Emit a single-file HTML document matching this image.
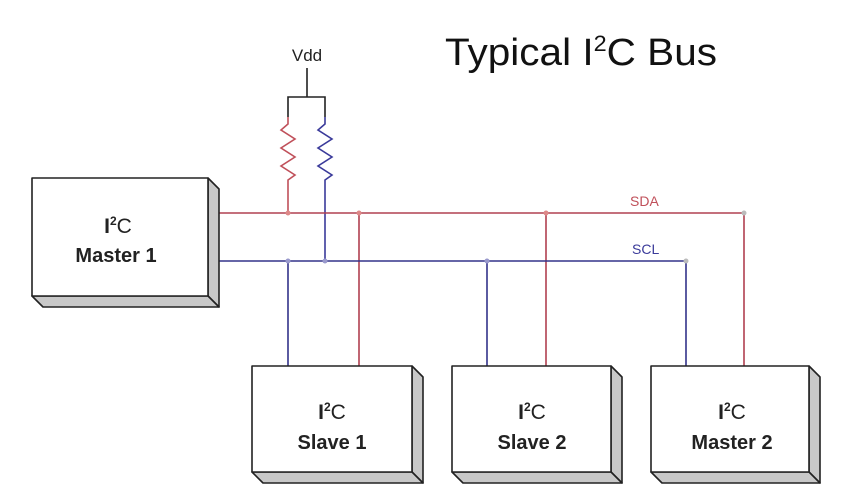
<!DOCTYPE html>
<html><head><meta charset="utf-8"><style>
html,body{margin:0;padding:0;background:#fff;}
svg{display:block;font-family:"Liberation Sans",Arial,sans-serif;}
</style></head><body>
<svg width="841" height="496" viewBox="0 0 841 496" xmlns="http://www.w3.org/2000/svg">
<rect width="841" height="496" fill="#fff"/>
<text x="445" y="65" font-size="38" fill="#111" textLength="272" lengthAdjust="spacingAndGlyphs">Typical I<tspan dy="-14" font-size="22">2</tspan><tspan dy="14">C Bus</tspan></text>
<text x="307" y="61" font-size="17" fill="#222" text-anchor="middle">Vdd</text>
<g fill="none" stroke-width="1.6">
<path d="M307 68V97M288 117V97H325V117" stroke="#222"/>
<path d="M288 117V124L281 130L295 139L281 148L295 157L281 166L295 175L288 180V213" stroke="#c0505a"/>
<path d="M325 117V124L318 130L332 139L318 148L332 157L318 166L332 175L325 180V261" stroke="#3a3a9a"/>
<path d="M219 213H744V366M359 213V366M546 213V366" stroke="#b04050"/>
<path d="M219 261H686V366M288 261V366M487 261V366" stroke="#33338a"/>
</g>
<g fill="#bbb"><circle cx="288" cy="213" r="2.5" fill="#d88"/><circle cx="359" cy="213" r="2.5" fill="#d88"/><circle cx="546" cy="213" r="2.5" fill="#d88"/><circle cx="744" cy="213" r="2.5"/>
<circle cx="288" cy="261" r="2.5" fill="#99c"/><circle cx="325" cy="261" r="2.5" fill="#99c"/><circle cx="487" cy="261" r="2.5" fill="#99c"/><circle cx="686" cy="261" r="2.5"/></g>
<text x="630" y="206" font-size="14" fill="#c0505a">SDA</text>
<text x="632" y="254" font-size="14" fill="#3a3a9a">SCL</text>
<g stroke="#222" stroke-width="1.6" stroke-linejoin="round">
<path d="M208 178L219 189V307L208 296Z" fill="#c8c8c8"/><path d="M32 296H208L219 307H43Z" fill="#c8c8c8"/><rect x="32" y="178" width="176" height="118" fill="#fff"/>
<path d="M412 366L423 377V483L412 472Z" fill="#c8c8c8"/><path d="M252 472H412L423 483H263Z" fill="#c8c8c8"/><rect x="252" y="366" width="160" height="106" fill="#fff"/>
<path d="M611 366L622 377V483L611 472Z" fill="#c8c8c8"/><path d="M452 472H611L622 483H463Z" fill="#c8c8c8"/><rect x="452" y="366" width="159" height="106" fill="#fff"/>
<path d="M809 366L820 377V483L809 472Z" fill="#c8c8c8"/><path d="M651 472H809L820 483H662Z" fill="#c8c8c8"/><rect x="651" y="366" width="158" height="106" fill="#fff"/>
</g>
<g fill="#222" text-anchor="middle" font-size="21">
<text x="118" y="233"><tspan font-weight="bold">I</tspan><tspan dy="-8" font-size="12" font-weight="bold">2</tspan><tspan dy="8">C</tspan></text>
<text x="116" y="262" font-weight="bold" font-size="20">Master 1</text>
<text x="332" y="419"><tspan font-weight="bold">I</tspan><tspan dy="-8" font-size="12" font-weight="bold">2</tspan><tspan dy="8">C</tspan></text>
<text x="332" y="449" font-weight="bold" font-size="20">Slave 1</text>
<text x="532" y="419"><tspan font-weight="bold">I</tspan><tspan dy="-8" font-size="12" font-weight="bold">2</tspan><tspan dy="8">C</tspan></text>
<text x="532" y="449" font-weight="bold" font-size="20">Slave 2</text>
<text x="732" y="419"><tspan font-weight="bold">I</tspan><tspan dy="-8" font-size="12" font-weight="bold">2</tspan><tspan dy="8">C</tspan></text>
<text x="732" y="449" font-weight="bold" font-size="20">Master 2</text>
</g>
</svg>
</body></html>
